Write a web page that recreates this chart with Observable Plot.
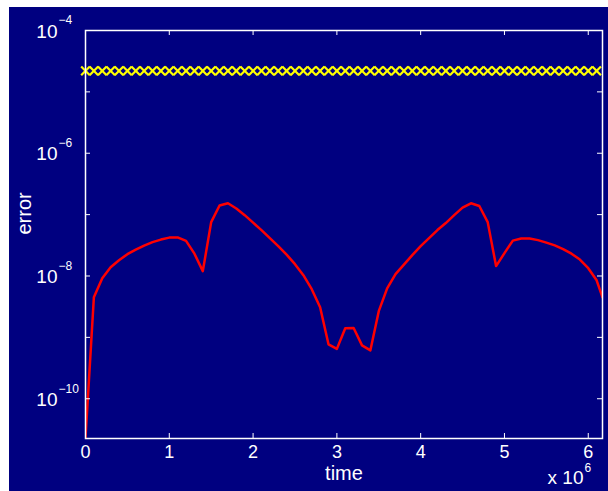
<!DOCTYPE html>
<html><head><meta charset="utf-8">
<script src="https://cdn.jsdelivr.net/npm/d3@7"></script>
<script src="https://cdn.jsdelivr.net/npm/@observablehq/plot@0.6"></script>
<style>
html,body{margin:0;padding:0;background:#fff;overflow:hidden;width:608px;height:491px}
#fig{position:absolute;left:9px;top:7px;width:599px;height:484px;background:#000080;overflow:hidden}
#fig svg{display:block}
</style></head><body><div id="fig"></div>
<script>
// x values are in units of 10^6 (time)
const xTickValues = [0, 1, 2, 3, 4, 5, 6];
const xTickLabels = ["0", "1", "2", "3", "4", "5", "6"];
const yTickValues = [1e-10, 1e-9, 1e-8, 1e-7, 1e-6, 1e-5, 1e-4];
const yLabelValues = [1e-10, 1e-8, 1e-6, 1e-4];
const yLabelExponents = ["\u221210", "\u22128", "\u22126", "\u22124"];

const redTime = [0, 0.1, 0.2, 0.3, 0.4, 0.5, 0.6, 0.7, 0.8, 0.9,
  1.0, 1.1, 1.2, 1.3, 1.4, 1.5, 1.6, 1.7, 1.8, 1.9,
  2.0, 2.1, 2.2, 2.3, 2.4, 2.5, 2.6, 2.7, 2.8, 2.9,
  3.0, 3.1, 3.2, 3.3, 3.4, 3.5, 3.6, 3.7, 3.8, 3.9,
  4.0, 4.1, 4.2, 4.3, 4.4, 4.5, 4.6, 4.7, 4.8, 4.9,
  5.0, 5.1, 5.2, 5.3, 5.4, 5.5, 5.6, 5.7, 5.8, 5.9,
  6.0, 6.1, 6.17];
const redError = [2.3e-11, 4.5e-9, 9.2e-9, 1.39e-8, 1.81e-8, 2.27e-8, 2.69e-8, 3.13e-8, 3.56e-8, 3.92e-8,
  4.22e-8, 4.25e-8, 3.74e-8, 2.31e-8, 1.20e-8, 7.55e-8, 1.41e-7, 1.53e-7, 1.26e-7, 9.8e-8,
  7.4e-8, 5.6e-8, 4.14e-8, 3.07e-8, 2.23e-8, 1.56e-8, 1.03e-8, 6.1e-9, 3.1e-9, 7.7e-10,
  6.5e-10, 1.41e-9, 1.42e-9, 7.4e-10, 6.15e-10, 2.67e-9, 6.3e-9, 1.07e-8, 1.53e-8, 2.19e-8,
  3.07e-8, 4.14e-8, 5.6e-8, 7.28e-8, 9.8e-8, 1.30e-7, 1.53e-7, 1.38e-7, 7.55e-8, 1.45e-8,
  2.36e-8, 3.77e-8, 4.09e-8, 4.09e-8, 3.84e-8, 3.50e-8, 3.15e-8, 2.74e-8, 2.31e-8, 1.85e-8,
  1.34e-8, 8.5e-9, 4.5e-9];

const yellowTime = [0, 0.1, 0.2, 0.3, 0.4, 0.5, 0.6, 0.7, 0.8, 0.9,
  1.0, 1.1, 1.2, 1.3, 1.4, 1.5, 1.6, 1.7, 1.8, 1.9,
  2.0, 2.1, 2.2, 2.3, 2.4, 2.5, 2.6, 2.7, 2.8, 2.9,
  3.0, 3.1, 3.2, 3.3, 3.4, 3.5, 3.6, 3.7, 3.8, 3.9,
  4.0, 4.1, 4.2, 4.3, 4.4, 4.5, 4.6, 4.7, 4.8, 4.9,
  5.0, 5.1, 5.2, 5.3, 5.4, 5.5, 5.6, 5.7, 5.8, 5.9,
  6.0, 6.1];
const yellowError = [2.2e-5, 2.2e-5, 2.2e-5, 2.2e-5, 2.2e-5, 2.2e-5, 2.2e-5, 2.2e-5, 2.2e-5, 2.2e-5,
  2.2e-5, 2.2e-5, 2.2e-5, 2.2e-5, 2.2e-5, 2.2e-5, 2.2e-5, 2.2e-5, 2.2e-5, 2.2e-5,
  2.2e-5, 2.2e-5, 2.2e-5, 2.2e-5, 2.2e-5, 2.2e-5, 2.2e-5, 2.2e-5, 2.2e-5, 2.2e-5,
  2.2e-5, 2.2e-5, 2.2e-5, 2.2e-5, 2.2e-5, 2.2e-5, 2.2e-5, 2.2e-5, 2.2e-5, 2.2e-5,
  2.2e-5, 2.2e-5, 2.2e-5, 2.2e-5, 2.2e-5, 2.2e-5, 2.2e-5, 2.2e-5, 2.2e-5, 2.2e-5,
  2.2e-5, 2.2e-5, 2.2e-5, 2.2e-5, 2.2e-5, 2.2e-5, 2.2e-5, 2.2e-5, 2.2e-5, 2.2e-5,
  2.2e-5, 2.2e-5];

const redData = redTime.map((t, i) => ({t, e: redError[i]}));
const yellowData = yellowTime.map((t, i) => ({t, e: yellowError[i]}));

const W = 599, H = 484, mL = 76, mR = 6, mT = 23, mB = 53;
const fw = W - mL - mR, fh = H - mT - mB;
const tick = 5;

const chart = Plot.plot({
  width: W, height: H,
  marginLeft: mL, marginRight: mR, marginTop: mT, marginBottom: mB,
  x: {domain: [0, 6.17], axis: null},
  y: {type: "log", domain: [2.25e-11, 1e-4], axis: null},
  style: {background: "transparent", fontFamily: "'Liberation Sans', Arial, sans-serif", color: "white"},
  marks: [
    Plot.line(redData, {x: "t", y: "e", stroke: "#ff0000", strokeWidth: 2.5, clip: true}),
    Plot.dot(yellowData, {x: "t", y: "e", symbol: "times", r: 4, stroke: "#ffff00", strokeWidth: 2.2}),
    Plot.tickX(xTickValues, {x: d => d, stroke: "white", strokeWidth: 1, insetTop: fh - tick}),
    Plot.tickX(xTickValues, {x: d => d, stroke: "white", strokeWidth: 1, insetBottom: fh - tick}),
    Plot.tickY(yTickValues, {y: d => d, stroke: "white", strokeWidth: 1, insetRight: fw - tick}),
    Plot.tickY(yTickValues, {y: d => d, stroke: "white", strokeWidth: 1, insetLeft: fw - tick}),
    Plot.frame({stroke: "white", strokeWidth: 1.5}),
    Plot.text(xTickValues, {x: d => d, text: (d, i) => xTickLabels[i], frameAnchor: "bottom", dy: 19, fill: "white", fontSize: 18}),
    Plot.text(yLabelValues, {y: d => d, text: () => "10", frameAnchor: "left", textAnchor: "end", dx: -28, dy: 1, fill: "white", fontSize: 19}),
    Plot.text(yLabelValues, {y: d => d, text: (d, i) => yLabelExponents[i], frameAnchor: "left", textAnchor: "start", dx: -27, dy: -10, fill: "white", fontSize: 12}),
    Plot.text(["time"], {text: d => d, frameAnchor: "bottom", dy: 41, fill: "white", fontSize: 20}),
    Plot.text(["error"], {text: d => d, frameAnchor: "left", rotate: -90, dx: -61, fill: "white", fontSize: 20}),
    Plot.text(["x 10"], {text: d => d, frameAnchor: "bottom-right", textAnchor: "end", dx: -19, dy: 45, fill: "white", fontSize: 19}),
    Plot.text(["6"], {text: d => d, frameAnchor: "bottom-right", textAnchor: "start", dx: -18, dy: 33, fill: "white", fontSize: 12})
  ]
});
document.getElementById("fig").appendChild(chart);
</script>
</body></html>
